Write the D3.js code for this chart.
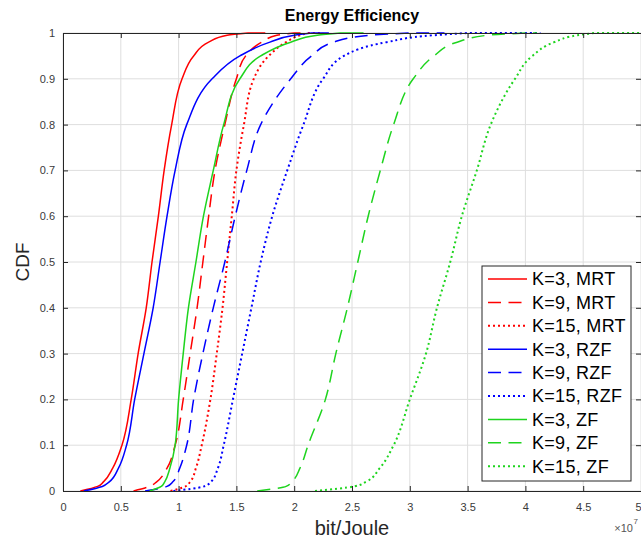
<!DOCTYPE html>
<html>
<head>
<meta charset="utf-8">
<script src="https://cdn.jsdelivr.net/npm/d3@7"></script>
<style>
  body { margin: 0; background: #fff; }
  svg { display: block; font-family: "Liberation Sans", Arial, Helvetica, sans-serif; }
</style>
</head>
<body>
<div id="chart"></div>
<script>
// CDF levels shared by every curve, x values are bit/Joule in units of 1e7
const cdfLevels = [0, 0.01, 0.02, 0.05, 0.1, 0.2, 0.3, 0.4, 0.5, 0.6, 0.7, 0.8, 0.9, 0.95, 0.98, 0.995, 1];

const k3_mrt  = [0.15, 0.30, 0.35, 0.43, 0.51, 0.59, 0.65, 0.72, 0.77, 0.825, 0.875, 0.94, 1.03, 1.13, 1.26, 1.42, 1.6];
const k9_mrt  = [0.61, 0.75, 0.81, 0.90, 0.97, 1.04, 1.10, 1.16, 1.21, 1.26, 1.315, 1.40, 1.50, 1.58, 1.72, 1.85, 2.0];
const k15_mrt = [0.93, 1.06, 1.10, 1.15, 1.20, 1.275, 1.33, 1.38, 1.42, 1.46, 1.50, 1.565, 1.65, 1.78, 1.93, 2.05, 2.12];
const k3_rzf  = [0.18, 0.34, 0.40, 0.48, 0.55, 0.62, 0.70, 0.78, 0.84, 0.90, 0.97, 1.07, 1.29, 1.53, 1.79, 2.0, 2.15];
const k9_rzf  = [0.71, 0.90, 0.95, 1.01, 1.07, 1.13, 1.21, 1.30, 1.40, 1.49, 1.59, 1.71, 1.97, 2.15, 2.34, 2.65, 3.0];
const k15_rzf = [0.955, 1.22, 1.28, 1.34, 1.39, 1.47, 1.55, 1.63, 1.71, 1.81, 1.94, 2.08, 2.25, 2.43, 2.8, 3.2, 3.5];
const k3_zf   = [0.75, 0.85, 0.88, 0.925, 0.97, 1.0, 1.04, 1.085, 1.15, 1.215, 1.30, 1.39, 1.53, 1.71, 1.97, 2.2, 2.4];
const k9_zf   = [1.68, 1.93, 1.98, 2.05, 2.12, 2.27, 2.36, 2.46, 2.55, 2.64, 2.745, 2.86, 3.03, 3.21, 3.41, 3.67, 4.0];
const k15_zf  = [2.18, 2.52, 2.62, 2.74, 2.86, 3.0, 3.14, 3.235, 3.35, 3.45, 3.58, 3.70, 3.91, 4.06, 4.25, 4.45, 4.6];

// largest sample of each curve (flat part along CDF = 1)
const tailEnd = [1.75, 2.1, 2.25, 2.3, 3.3, 4.13, 2.6, 4.1, 5.0];

const seriesNames = ["K=3, MRT", "K=9, MRT", "K=15, MRT", "K=3, RZF", "K=9, RZF", "K=15, RZF", "K=3, ZF", "K=9, ZF", "K=15, ZF"];
const seriesValues = [k3_mrt, k9_mrt, k15_mrt, k3_rzf, k9_rzf, k15_rzf, k3_zf, k9_zf, k15_zf];

const xTicks = [0, 0.5, 1, 1.5, 2, 2.5, 3, 3.5, 4, 4.5, 5];
const yTicks = [0, 0.1, 0.2, 0.3, 0.4, 0.5, 0.6, 0.7, 0.8, 0.9, 1];

const COLORS = ["#ff0000", "#ff0000", "#ff0000", "#0000ff", "#0000ff", "#0000ff", "#1ed41e", "#1ed41e", "#1ed41e"];
const DASHES = [null, "13,7.5", "2,3", null, "13,7.5", "2,3", null, "13,7.5", "2,3"];
const WIDTHS = [1.5, 1.5, 2, 1.5, 1.5, 2, 1.5, 1.5, 2];

const MARGIN = { LEFT: 63, RIGHT: 0, TOP: 33, BOTTOM: 51 };
const WIDTH = 641 - MARGIN.LEFT - MARGIN.RIGHT;
const HEIGHT = 542 - MARGIN.TOP - MARGIN.BOTTOM;
const AXIS_COLOR = "#262626";

const svg = d3.select("#chart").append("svg")
  .attr("width", 641)
  .attr("height", 542);

const g = svg.append("g")
  .attr("transform", `translate(${MARGIN.LEFT}, ${MARGIN.TOP})`);

const x = d3.scaleLinear().domain([0, 5]).range([0, WIDTH]);
const y = d3.scaleLinear().domain([0, 1]).range([HEIGHT, 0]);

// grid
g.append("g").selectAll("line.vgrid")
  .data(xTicks)
  .enter().append("line")
  .attr("x1", d => x(d)).attr("x2", d => x(d))
  .attr("y1", 0).attr("y2", HEIGHT)
  .attr("stroke", "#dedede").attr("stroke-width", 1);

g.append("g").selectAll("line.hgrid")
  .data(yTicks)
  .enter().append("line")
  .attr("x1", 0).attr("x2", WIDTH)
  .attr("y1", d => y(d)).attr("y2", d => y(d))
  .attr("stroke", "#dedede").attr("stroke-width", 1);

// curves
svg.append("clipPath").attr("id", "plot-clip")
  .append("rect").attr("x", 0).attr("y", -2).attr("width", WIDTH).attr("height", HEIGHT + 3);

const line = d3.line()
  .x(d => x(d[0]))
  .y(d => y(d[1]))
  .curve(d3.curveMonotoneY);

const curves = g.append("g").attr("clip-path", "url(#plot-clip)");
seriesValues.forEach((vals, i) => {
  const pts = vals.map((v, j) => [v, cdfLevels[j]]);
  const path = line(pts) + `L${x(tailEnd[i])},${y(1)}`;
  curves.append("path")
    .attr("d", path)
    .attr("fill", "none")
    .attr("stroke", COLORS[i])
    .attr("stroke-width", WIDTHS[i])
    .attr("stroke-dasharray", DASHES[i]);
});

// axes, MATLAB style box with inward ticks
const fmt = d => d3.format("~g")(d);

const xAxisCall = d3.axisBottom(x).tickValues(xTicks).tickFormat(fmt)
  .tickSizeInner(-5).tickSizeOuter(0).tickPadding(12);
const xAxis = g.append("g")
  .attr("class", "x axis")
  .attr("transform", `translate(0, ${HEIGHT})`)
  .call(xAxisCall);
// last label sits on the window edge, keep it inside
xAxis.selectAll(".tick text").filter(d => d === 5).attr("text-anchor", "end");

const yAxisCall = d3.axisLeft(y).tickValues(yTicks).tickFormat(fmt)
  .tickSizeInner(-5).tickSizeOuter(0).tickPadding(8);
g.append("g")
  .attr("class", "y axis")
  .call(yAxisCall);

g.append("g")
  .attr("class", "axis")
  .call(d3.axisTop(x).tickValues(xTicks).tickFormat("").tickSizeInner(-5).tickSizeOuter(0));

g.append("g")
  .attr("class", "axis")
  .attr("transform", `translate(${WIDTH}, 0)`)
  .call(d3.axisRight(y).tickValues(yTicks).tickFormat("").tickSizeInner(-5).tickSizeOuter(0));

g.selectAll(".domain, .tick line").attr("stroke", AXIS_COLOR);
g.selectAll(".tick text")
  .attr("fill", "#3a3a3a")
  .attr("font-size", "11px")
  .attr("font-family", "'Liberation Sans', Arial, sans-serif");

// exponent label
svg.append("text")
  .attr("x", 633)
  .attr("y", 532)
  .attr("text-anchor", "end")
  .attr("font-size", "11px")
  .attr("fill", "#555")
  .text("×10");
svg.append("text")
  .attr("x", 633.5)
  .attr("y", 524)
  .attr("font-size", "8px")
  .attr("fill", "#555")
  .text("7");

// Title
svg.append("text")
  .attr("x", MARGIN.LEFT + WIDTH / 2)
  .attr("y", 21)
  .attr("font-size", "16px")
  .attr("font-weight", "bold")
  .attr("text-anchor", "middle")
  .attr("fill", "#000")
  .text("Energy Efficiency");

// X Label
svg.append("text")
  .attr("x", MARGIN.LEFT + WIDTH / 2)
  .attr("y", 535)
  .attr("font-size", "20px")
  .attr("text-anchor", "middle")
  .attr("fill", AXIS_COLOR)
  .text("bit/Joule");

// Y label
svg.append("text")
  .attr("x", -(MARGIN.TOP + HEIGHT / 2))
  .attr("y", 29)
  .attr("font-size", "19px")
  .attr("text-anchor", "middle")
  .attr("transform", "rotate(-90)")
  .attr("fill", AXIS_COLOR)
  .text("CDF");

// Legend
const LEG = { X: 482, Y: 266, W: 149, H: 215, ROW: 23.4 };
const legend = svg.append("g");
legend.append("rect")
  .attr("x", LEG.X).attr("y", LEG.Y)
  .attr("width", LEG.W).attr("height", LEG.H)
  .attr("fill", "#fff")
  .attr("stroke", AXIS_COLOR)
  .attr("stroke-width", 1);

const rows = legend.selectAll("g.row")
  .data(seriesNames)
  .enter().append("g")
  .attr("transform", (d, i) => `translate(${LEG.X}, ${LEG.Y + 13 + i * LEG.ROW})`);

rows.append("line")
  .attr("x1", 6).attr("x2", 45)
  .attr("y1", 0).attr("y2", 0)
  .attr("stroke", (d, i) => COLORS[i])
  .attr("stroke-width", (d, i) => WIDTHS[i])
  .attr("stroke-dasharray", (d, i) => DASHES[i]);

rows.append("text")
  .attr("x", 50)
  .attr("y", 0)
  .attr("dy", "0.36em")
  .attr("font-size", "18px")
  .attr("letter-spacing", "0.3px")
  .attr("fill", "#000")
  .text(d => d);
</script>
</body>
</html>
